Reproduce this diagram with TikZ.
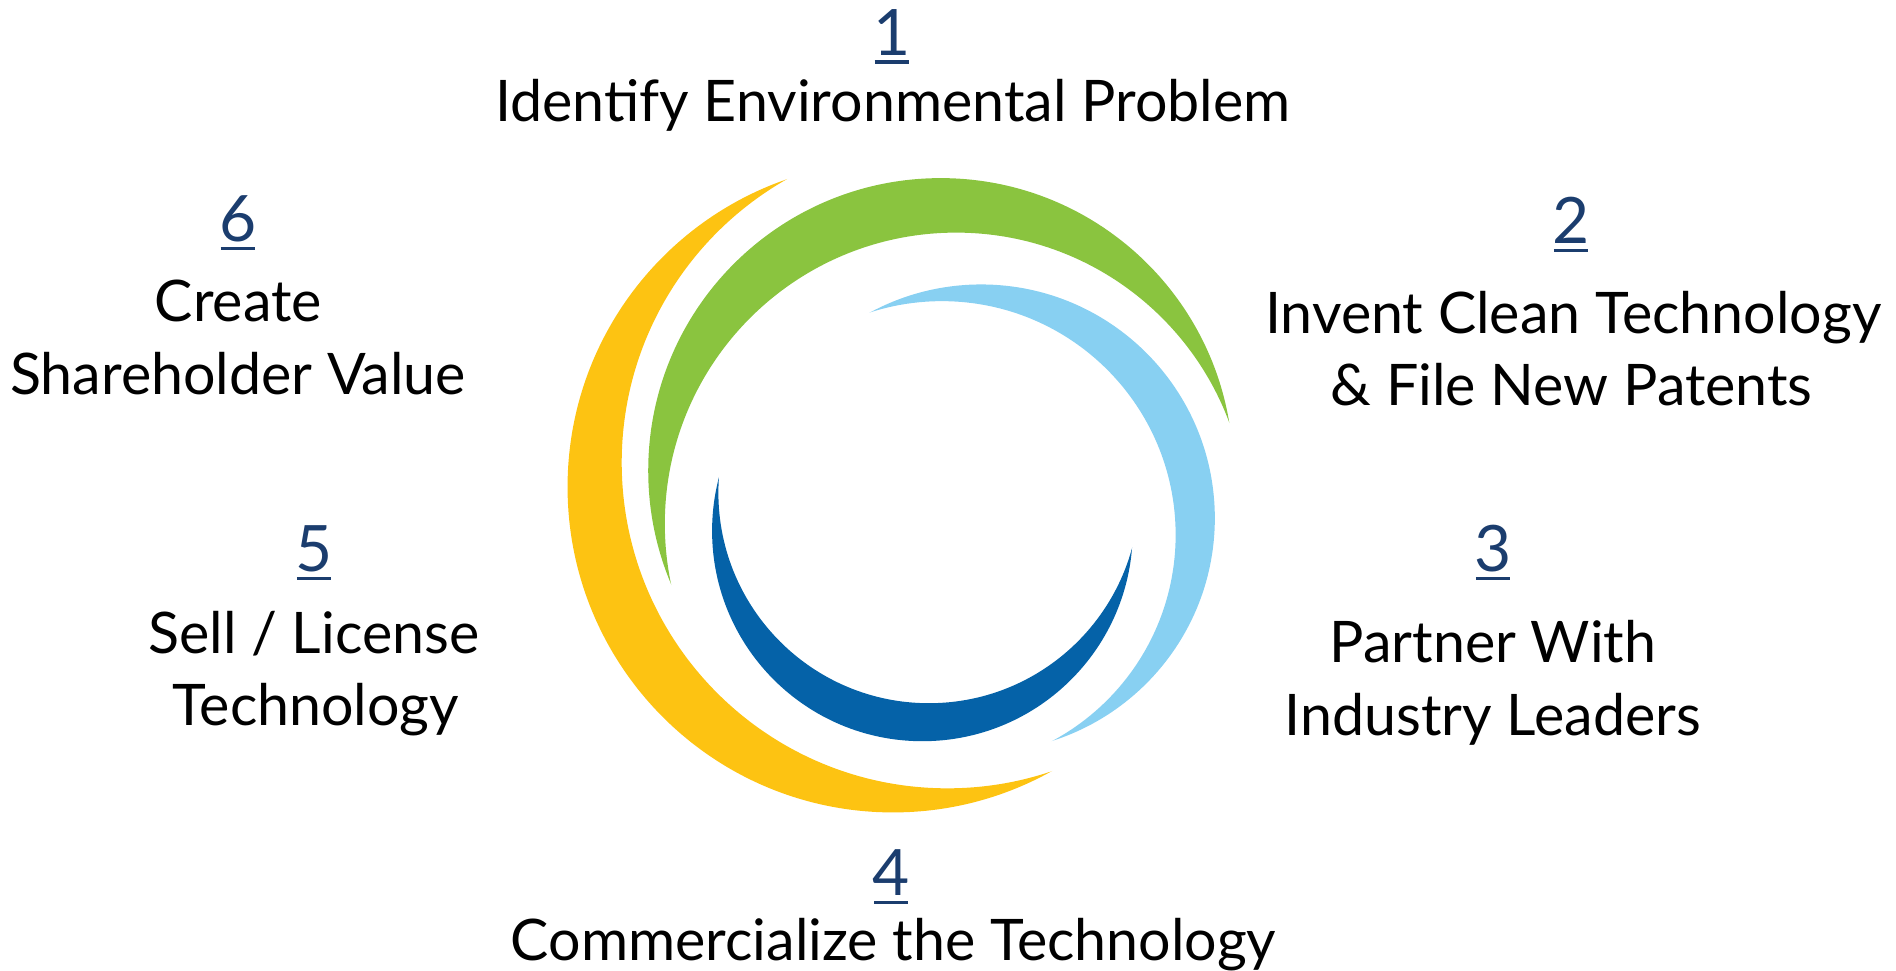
\documentclass[tikz,border=0pt]{standalone}
\usepackage{fontspec}
\setmainfont{Lato}
\definecolor{cyellow}{HTML}{FDC312}
\definecolor{cgreen}{HTML}{8AC43F}
\definecolor{clight}{HTML}{88D0F2}
\definecolor{cdark}{HTML}{0562A8}
\definecolor{cnavy}{HTML}{1B3D6E}
\newcommand{\numul}[1]{\hbox to 9.7pt{\hss#1\hss}\llap{\rule[-2.3pt]{9.7pt}{0.9pt}}}
\begin{document}
\begin{tikzpicture}[x=0.01cm,y=-0.01cm,
  lbl/.style={anchor=base,inner sep=0pt,font=\fontsize{16.3}{20}\selectfont,text=black},
  num/.style={anchor=base,inner sep=0pt,font=\fontsize{18.2}{20}\selectfont,text=cnavy}]
\useasboundingbox (0,0) rectangle (1896,971);
% crescents: outer disc minus inner disc
\begin{scope}[even odd rule]
  \clip (-100,-100) rectangle (2000,1100) (947.4,462.65) circle (3.255cm);
  \fill[cyellow] (893.0,487.0) circle (3.2525cm);
\end{scope}
\begin{scope}[even odd rule]
  \clip (-100,-100) rectangle (2000,1100) (956.1,523.9) circle (2.911cm);
  \fill[cgreen] (940.7,470.6) circle (2.923cm);
\end{scope}
\begin{scope}[even odd rule]
  \clip (-100,-100) rectangle (2000,1100) (941.9,534.9) circle (2.336cm);
  \fill[clight] (981.1,518.2) circle (2.336cm);
\end{scope}
\begin{scope}[even odd rule]
  \clip (-100,-100) rectangle (2000,1100) (928.9,492.7) circle (2.104cm);
  \fill[cdark] (922.4,530.9) circle (2.102cm);
\end{scope}
% labels
\node[num] (n1) at (891.6,55.5) {\numul{1}};
\node[lbl] (t1) at (892.7,121.2) {Identify Environmental Problem};
\node[num] (n2) at (1571,243.6) {\numul{2}};
\node[lbl] (t2a) at (1573.4,333.8) {Invent Clean Technology};
\node[lbl] (t2b) at (1571.7,405.6) {\& File New Patents};
\node[num] (n3) at (1493,571.8) {\numul{3}};
\node[lbl] (t3a) at (1493,663) {Partner With};
\node[lbl] (t3b) at (1492.8,735.6) {Industry Leaders};
\node[num] (n4) at (891.3,895.7) {\numul{4}};
\node[lbl] (t4) at (893.5,960.3) {Commercialize the Technology};
\node[num] (n5) at (314,572) {\numul{5}};
\node[lbl] (t5a) at (313.8,653.2) {Sell / License};
\node[lbl] (t5b) at (316,725.7) {Technology};
\node[num] (n6) at (237.7,241.8) {\numul{6}};
\node[lbl] (t6a) at (238.4,321.8) {Create};
\node[lbl] (t6b) at (238.2,394.7) {Shareholder Value};
\end{tikzpicture}
\end{document}
